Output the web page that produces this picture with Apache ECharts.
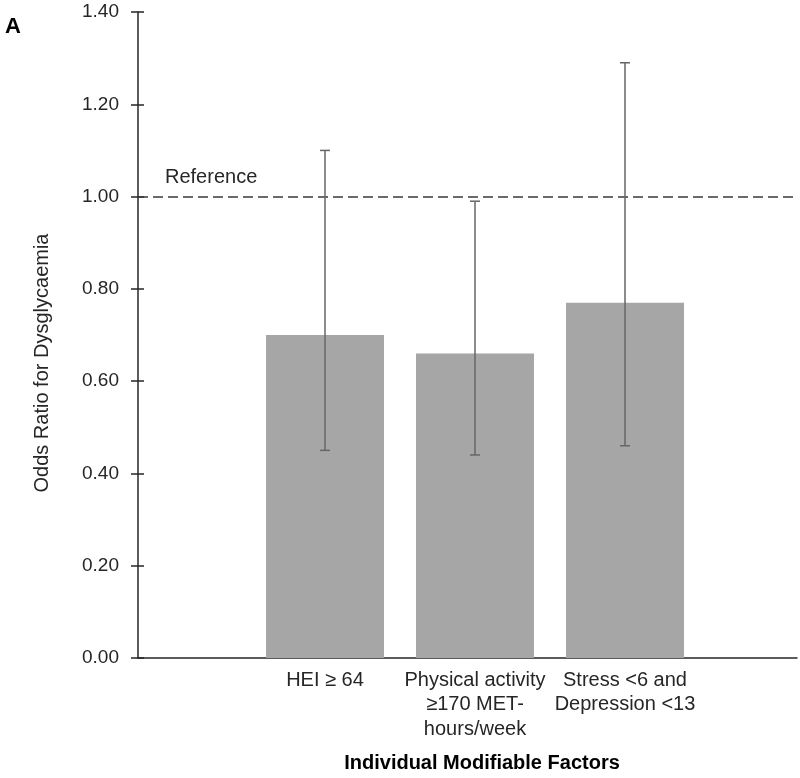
<!DOCTYPE html>
<html><head><meta charset="utf-8">
<script src="https://cdn.jsdelivr.net/npm/echarts@6/dist/echarts.min.js"></script>
<style>html,body{margin:0;padding:0;background:#fff}#c{width:800px;height:778px}</style>
</head><body><div id="c"></div>
<script>
// ---- data ----
const categories = ['HEI \u2265 64', 'Physical activity\n\u2265170 MET-\nhours/week', 'Stress <6 and\nDepression <13'];
const oddsRatios = [0.70, 0.66, 0.77];
const ciLower = [0.45, 0.44, 0.46];
const ciUpper = [1.10, 0.99, 1.29];
const yMin = 0, yMax = 1.4, yStep = 0.2;
const referenceValue = 1.0;
const referenceLabel = 'Reference';
const yAxisTitle = 'Odds Ratio for Dysglycaemia';
const xAxisTitle = 'Individual Modifiable Factors';
const panelLabel = 'A';

const FONT = "'Liberation Sans', Arial, sans-serif";
const TXT = '#262626';
const AX = '#262626';

const chart = echarts.init(document.getElementById('c'), null, {renderer: 'canvas'});
const gridTop = 12, gridBottom = 120;

chart.setOption({
  animation: false,
  backgroundColor: '#fff',
  textStyle: {fontFamily: FONT},
  grid: [
    {left: 138, right: 3, top: gridTop, bottom: gridBottom, containLabel: false},
    {left: 250, width: 450, top: gridTop, bottom: gridBottom, containLabel: false}
  ],
  xAxis: [
    {gridIndex: 0, type: 'value', min: 0, max: 1,
      axisLine: {show: true, onZero: false, lineStyle: {color: AX, width: 1.5}},
      axisTick: {show: false}, axisLabel: {show: false}, splitLine: {show: false}},
    {gridIndex: 1, type: 'category', data: categories,
      axisLine: {show: false}, axisTick: {show: false}, splitLine: {show: false},
      axisLabel: {show: true, interval: 0, margin: 10, color: TXT, fontSize: 20, lineHeight: 24.5, fontFamily: FONT, align: 'center'}}
  ],
  yAxis: [
    {gridIndex: 0, type: 'value', min: yMin, max: yMax, interval: yStep,
      axisLine: {show: true, lineStyle: {color: AX, width: 1.5}},
      axisTick: {show: true, length: 7, lineStyle: {color: AX, width: 1.5}},
      axisLabel: {show: true, margin: 19, color: TXT, fontSize: 19, fontFamily: FONT, formatter: v => v.toFixed(2)},
      splitLine: {show: false}},
    {gridIndex: 0, type: 'value', min: yMin, max: yMax, interval: yStep, position: 'left',
      axisLine: {show: false},
      axisTick: {show: true, inside: true, length: 6, lineStyle: {color: AX, width: 1.5}},
      axisLabel: {show: false}, splitLine: {show: false}},
    {gridIndex: 1, type: 'value', min: yMin, max: yMax, interval: yStep, show: false}
  ],
  series: [
    {type: 'line', xAxisIndex: 0, yAxisIndex: 0, data: [], silent: true,
      markLine: {silent: true, symbol: 'none',
        lineStyle: {type: [10, 5], color: '#3a3a3a', width: 1.5},
        label: {show: true, formatter: referenceLabel, position: 'insideStartTop', distance: [27, 9],
          color: TXT, fontSize: 20, fontFamily: FONT},
        data: [{yAxis: referenceValue}]}},
    {type: 'bar', xAxisIndex: 1, yAxisIndex: 2, data: oddsRatios, barWidth: 118,
      itemStyle: {color: '#a6a6a6'}, silent: true, z: 2},
    {type: 'custom', xAxisIndex: 1, yAxisIndex: 2, z: 5, silent: true,
      data: categories.map((c, i) => [i, ciLower[i], ciUpper[i]]),
      encode: {x: 0, y: [1, 2]},
      renderItem: function (params, api) {
        const x = api.value(0);
        const lo = api.coord([x, api.value(1)]);
        const hi = api.coord([x, api.value(2)]);
        const hw = 5;
        const st = {stroke: '#666666', lineWidth: 1.5};
        return {type: 'group', children: [
          {type: 'line', shape: {x1: lo[0], y1: lo[1], x2: hi[0], y2: hi[1]}, style: st},
          {type: 'line', shape: {x1: lo[0] - hw, y1: lo[1], x2: lo[0] + hw, y2: lo[1]}, style: st},
          {type: 'line', shape: {x1: hi[0] - hw, y1: hi[1], x2: hi[0] + hw, y2: hi[1]}, style: st}
        ]};
      }}
  ],
  graphic: [
    {type: 'text', left: 5, top: 16, style: {text: panelLabel, font: "bold 22px " + FONT, fill: '#000'}},
    {type: 'text', x: 42, y: 363, rotation: Math.PI / 2,
      style: {text: yAxisTitle, font: "20px " + FONT, fill: TXT, align: 'center', verticalAlign: 'middle'}},
    {type: 'text', x: 482, y: 763,
      style: {text: xAxisTitle, font: "bold 20px " + FONT, fill: '#000', align: 'center', verticalAlign: 'middle'}}
  ]
});
</script>
</body></html>
